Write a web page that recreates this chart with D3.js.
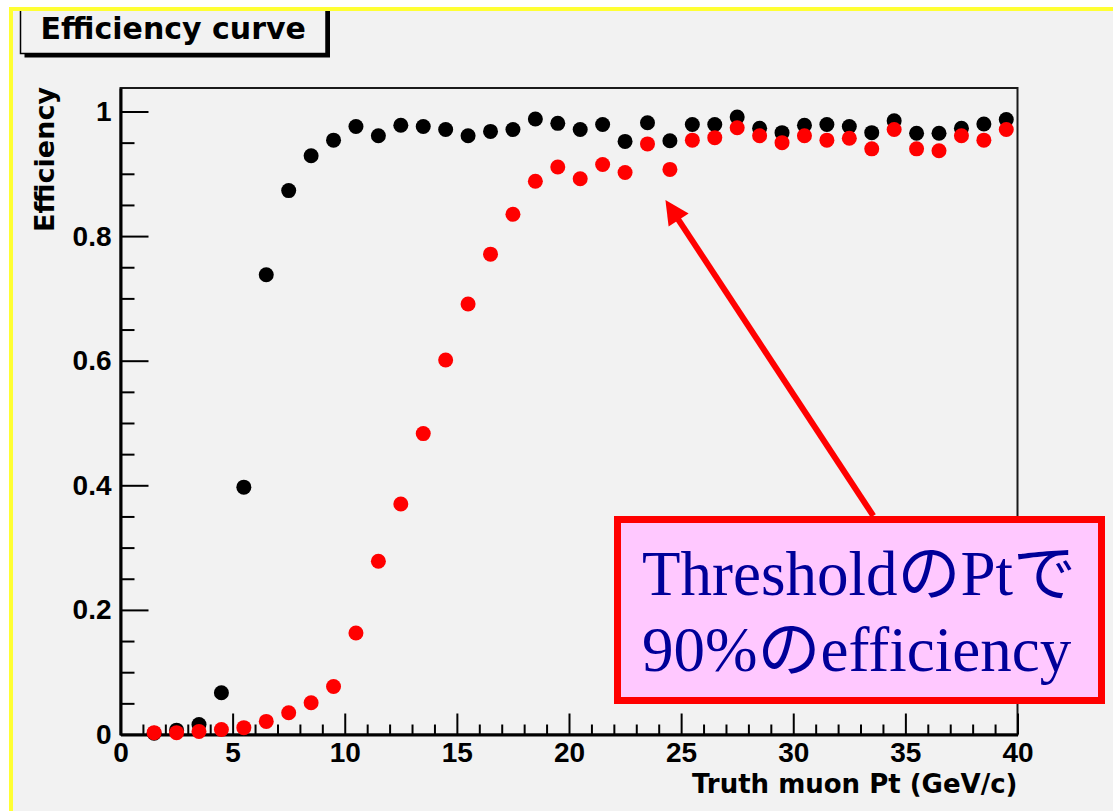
<!DOCTYPE html>
<html>
<head>
<meta charset="utf-8">
<script src="https://cdn.jsdelivr.net/npm/d3@7"></script>
<style>
  html, body { margin: 0; padding: 0; background: #ffffff; }
  svg { display: block; }
</style>
</head>
<body>
<svg id="chart" width="1113" height="811"></svg>
<script>
// Truth muon Pt bin centres (GeV/c), 1 GeV bins
const ptBins = [1.5, 2.5, 3.5, 4.5, 5.5, 6.5, 7.5, 8.5, 9.5, 10.5,
                11.5, 12.5, 13.5, 14.5, 15.5, 16.5, 17.5, 18.5, 19.5, 20.5,
                21.5, 22.5, 23.5, 24.5, 25.5, 26.5, 27.5, 28.5, 29.5, 30.5,
                31.5, 32.5, 33.5, 34.5, 35.5, 36.5, 37.5, 38.5, 39.5];

// Efficiency without the Pt threshold (black)
const effNoThreshold = [0.002, 0.007, 0.016, 0.067, 0.397, 0.738, 0.873, 0.929, 0.954, 0.976,
                        0.961, 0.978, 0.976, 0.971, 0.961, 0.968, 0.971, 0.988, 0.981, 0.971,
                        0.979, 0.952, 0.982, 0.953, 0.979, 0.979, 0.991, 0.973, 0.966, 0.978,
                        0.979, 0.976, 0.966, 0.985, 0.965, 0.965, 0.973, 0.980, 0.987];

// Efficiency with the Pt threshold applied (red)
const effThreshold = [0.003, 0.003, 0.005, 0.008, 0.011, 0.021, 0.035, 0.051, 0.077, 0.163,
                      0.278, 0.370, 0.483, 0.601, 0.691, 0.771, 0.835, 0.888, 0.911, 0.892,
                      0.915, 0.902, 0.948, 0.907, 0.954, 0.958, 0.974, 0.961, 0.950, 0.961,
                      0.954, 0.957, 0.940, 0.971, 0.940, 0.937, 0.961, 0.954, 0.971];

const xTickValues = [0, 5, 10, 15, 20, 25, 30, 35, 40];
const yTickValues = [0, 0.2, 0.4, 0.6, 0.8, 1.0];
const yTickLabels = ["0", "0.2", "0.4", "0.6", "0.8", "1"];

const titleText = "Efficiency curve";
const xTitle = "Truth muon Pt (GeV/c)";
const yTitle = "Efficiency";
const noteLines = ["ThresholdのPtで", "90%のefficiency"];
// arrow from the note box up to the threshold-curve plateau (data coordinates)
const arrowFrom = [33.57, 0.351];
const arrowTo = [24.3, 0.858];

const W = 1113, H = 811;
const svg = d3.select("#chart");
const bg = "#f2f2f2";

// canvas
svg.append("rect").attr("x", 0).attr("y", 0).attr("width", W).attr("height", H).attr("fill", "#ffffff");
svg.append("rect").attr("x", 9).attr("y", 7).attr("width", W - 9).attr("height", H - 7).attr("fill", bg);

// plot frame
const frame = { left: 120.5, right: 1017.5, top: 88, bottom: 734.5 };
const x = d3.scaleLinear().domain([0, 40]).range([frame.left, frame.right]);
const y = d3.scaleLinear().domain([0, 1.0377]).range([frame.bottom, frame.top]);

svg.append("rect")
  .attr("x", frame.left).attr("y", frame.top)
  .attr("width", frame.right - frame.left).attr("height", frame.bottom - frame.top)
  .attr("fill", bg).attr("stroke", "#1a1a1a").attr("stroke-width", 2);

const tickFont = "'Liberation Sans', Arial, sans-serif";
const titleFont = "'DejaVu Sans', 'Liberation Sans', sans-serif";

// x axis: major ticks every 5, minor every 1 (pointing inward)
const xMinor = d3.range(0, 41, 1).filter(v => v % 5 !== 0);
svg.append("g")
  .attr("transform", `translate(0,${frame.bottom})`)
  .call(d3.axisBottom(x).tickValues(xMinor).tickSize(-10).tickSizeOuter(0).tickFormat(""))
  .call(g => g.select(".domain").remove())
  .call(g => g.selectAll("line").attr("stroke", "#000").attr("stroke-width", 2));

const xAxis = svg.append("g")
  .attr("transform", `translate(0,${frame.bottom})`)
  .call(d3.axisBottom(x).tickValues(xTickValues).tickSize(-21).tickSizeOuter(0).tickPadding(8)
        .tickFormat(d3.format("d")));
xAxis.select(".domain").attr("stroke", "#000").attr("stroke-width", 3);
xAxis.selectAll("line").attr("stroke", "#000").attr("stroke-width", 2);
xAxis.selectAll("text")
  .attr("font-family", tickFont).attr("font-weight", "bold").attr("font-size", 28)
  .attr("fill", "#000").attr("dy", "0.71em");

// y axis: major ticks every 0.2, minor every 0.05
const yMinor = d3.range(0, 21).map(i => i * 0.05).filter((v, i) => i % 4 !== 0);
svg.append("g")
  .attr("transform", `translate(${frame.left},0)`)
  .call(d3.axisLeft(y).tickValues(yMinor).tickSize(-14).tickSizeOuter(0).tickFormat(""))
  .call(g => g.select(".domain").remove())
  .call(g => g.selectAll("line").attr("stroke", "#000").attr("stroke-width", 2));

const yAxis = svg.append("g")
  .attr("transform", `translate(${frame.left},0)`)
  .call(d3.axisLeft(y).tickValues(yTickValues).tickSize(-28).tickSizeOuter(0).tickPadding(9)
        .tickFormat((d, i) => yTickLabels[i]));
yAxis.select(".domain").attr("stroke", "#000").attr("stroke-width", 3);
yAxis.selectAll("line").attr("stroke", "#000").attr("stroke-width", 2);
yAxis.selectAll("text")
  .attr("font-family", tickFont).attr("font-weight", "bold").attr("font-size", 28)
  .attr("fill", "#000");

// axis titles
svg.append("text")
  .attr("x", frame.right).attr("y", 793)
  .attr("text-anchor", "end")
  .attr("font-family", titleFont).attr("font-weight", "bold").attr("font-size", 26)
  .attr("fill", "#000").text(xTitle);

svg.append("text")
  .attr("transform", `translate(54,${frame.top - 1}) rotate(-90)`)
  .attr("text-anchor", "end")
  .attr("font-family", titleFont).attr("font-weight", "bold").attr("font-size", 27)
  .attr("fill", "#000").text(yTitle);

// data points: black first, red drawn on top
const series = [
  { values: effNoThreshold, color: "#000000" },
  { values: effThreshold, color: "#ff0000" }
];
series.forEach(s => {
  svg.append("g").selectAll("circle")
    .data(ptBins.map((p, i) => [p, s.values[i]]))
    .join("circle")
    .attr("cx", d => x(d[0]))
    .attr("cy", d => y(d[1]))
    .attr("r", 7.5)
    .attr("fill", s.color);
});

// title box with drop shadow
const tb = { x: 20.5, y: 0, w: 305.5, h: 53.5 };
svg.append("rect").attr("x", tb.x + 4).attr("y", tb.y + 4).attr("width", tb.w).attr("height", tb.h).attr("fill", "#000");
svg.append("rect").attr("x", tb.x).attr("y", tb.y).attr("width", tb.w).attr("height", tb.h)
  .attr("fill", bg).attr("stroke", "#000").attr("stroke-width", 1.5);
svg.append("text")
  .attr("x", tb.x + tb.w / 2).attr("y", 39)
  .attr("text-anchor", "middle")
  .attr("font-family", titleFont).attr("font-weight", "bold").attr("font-size", 30)
  .attr("fill", "#000").text(titleText);

// page edge: white margin and yellow border on top and left
svg.append("rect").attr("x", 0).attr("y", 0).attr("width", W).attr("height", 7).attr("fill", "#ffffff");
svg.append("rect").attr("x", 0).attr("y", 0).attr("width", 9).attr("height", H).attr("fill", "#ffffff");
svg.append("rect").attr("x", 9).attr("y", 7).attr("width", W - 9).attr("height", 4).attr("fill", "#ffff33");
svg.append("rect").attr("x", 9).attr("y", 7).attr("width", 4).attr("height", H - 7).attr("fill", "#ffff33");

// annotation arrow
const ax0 = x(arrowFrom[0]), ay0 = y(arrowFrom[1]);
const ax1 = x(arrowTo[0]), ay1 = y(arrowTo[1]);
const len = Math.hypot(ax1 - ax0, ay1 - ay0);
const ux = (ax1 - ax0) / len, uy = (ay1 - ay0) / len;
const headLen = 24, headHalf = 12;
const bx = ax1 - ux * headLen, by = ay1 - uy * headLen;
svg.append("line")
  .attr("x1", ax0).attr("y1", ay0).attr("x2", bx + ux * 2).attr("y2", by + uy * 2)
  .attr("stroke", "#ff0000").attr("stroke-width", 6);
svg.append("path")
  .attr("d", d3.line()([[ax1, ay1], [bx - uy * headHalf, by + ux * headHalf], [bx + uy * headHalf, by - ux * headHalf]]) + "Z")
  .attr("fill", "#ff0000");

// annotation box
const nb = { x: 617.5, y: 519.5, w: 484, h: 181 };
svg.append("rect").attr("x", nb.x).attr("y", nb.y).attr("width", nb.w).attr("height", nb.h)
  .attr("fill", "#ffc8ff").attr("stroke", "#ff0000").attr("stroke-width", 7);
const note = svg.append("text")
  .attr("font-family", "'Liberation Serif', 'Times New Roman', 'Noto Sans CJK JP', serif")
  .attr("font-size", 63).attr("fill", "#000099");
noteLines.forEach((line, i) => {
  note.append("tspan").attr("x", 642).attr("y", 595 + i * 76).text(line);
});
</script>
</body>
</html>
